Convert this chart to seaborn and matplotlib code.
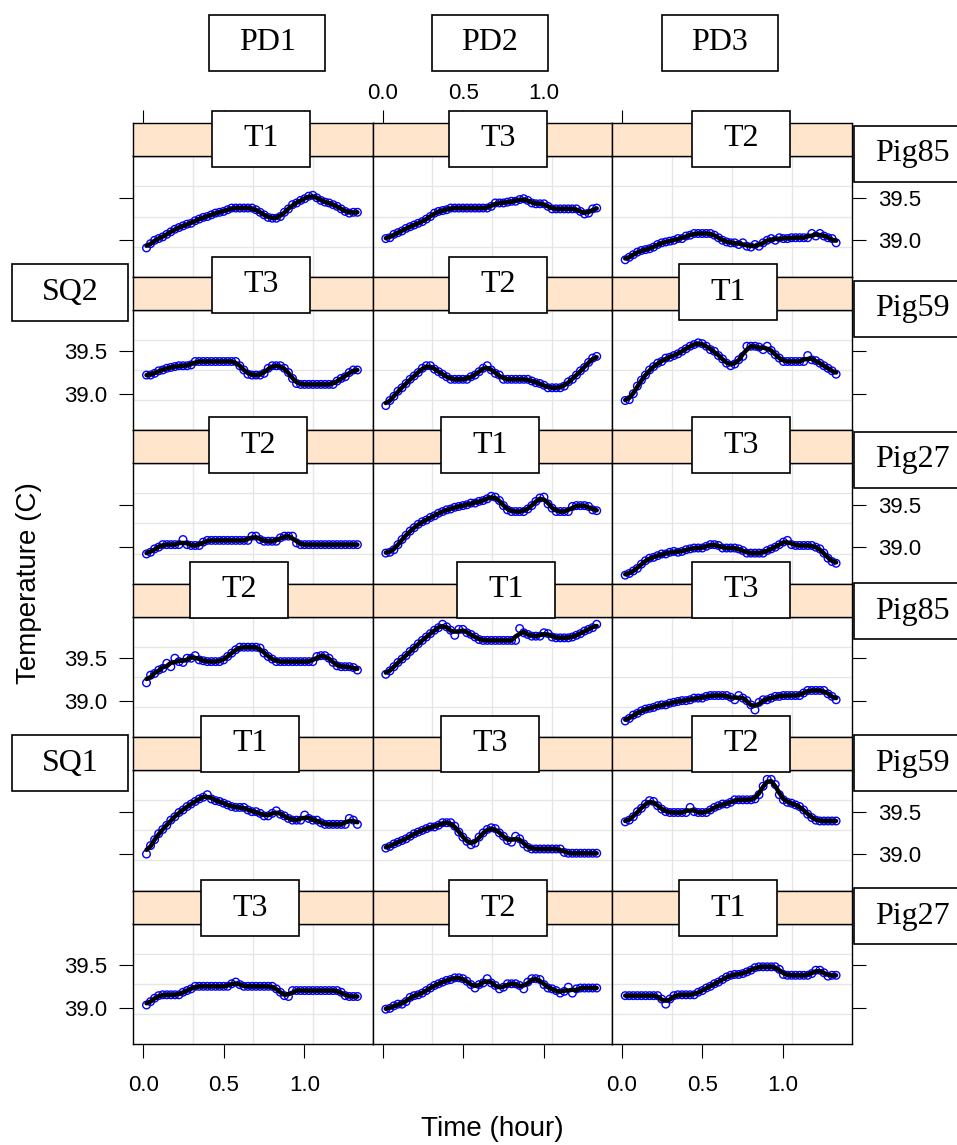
#!/usr/bin/env python3
# -*- coding: utf-8 -*-
"""
Rectal temperature of 3 pigs x 3 periods x 2 latin squares,
lattice-style trellis: 6 rows x 3 columns, strip per panel.
"""

import numpy as np
import pandas as pd
import seaborn as sns
import matplotlib.pyplot as plt
from matplotlib.patches import Rectangle

W, H = 957, 1145

# ──────────────────────── data ─────────────────────────────────────────────
periods = ["PD1", "PD2", "PD3"]
squares = ["SQ2", "SQ1"]
pigs = ["Pig85", "Pig59", "Pig27", "Pig85", "Pig59", "Pig27"]
treatments = [["T1", "T3", "T2"],
              ["T3", "T2", "T1"],
              ["T2", "T1", "T3"],
              ["T2", "T1", "T3"],
              ["T1", "T3", "T2"],
              ["T3", "T2", "T1"]]

minutes = np.linspace(1.2, 79.8, 53)      # sampling times
hours = minutes / 60.0

# SQ2 / Pig85
sq2_pig85_pd1 = [38.91, 38.96, 39.00, 39.02, 39.04, 39.07, 39.10, 39.13, 39.15, 39.17,
                 39.19, 39.20, 39.23, 39.25, 39.27, 39.28, 39.30, 39.32, 39.33, 39.34,
                 39.36, 39.38, 39.38, 39.38, 39.38, 39.38, 39.38, 39.36, 39.33, 39.30,
                 39.27, 39.26, 39.26, 39.28, 39.33, 39.37, 39.42, 39.44, 39.47, 39.49,
                 39.52, 39.53, 39.50, 39.47, 39.45, 39.44, 39.42, 39.40, 39.37, 39.34,
                 39.32, 39.33, 39.33]
sq2_pig85_pd2 = [39.02, 39.03, 39.07, 39.09, 39.11, 39.14, 39.16, 39.18, 39.20, 39.22,
                 39.25, 39.28, 39.32, 39.34, 39.35, 39.36, 39.38, 39.38, 39.38, 39.38,
                 39.38, 39.38, 39.38, 39.38, 39.38, 39.38, 39.40, 39.44, 39.44, 39.44,
                 39.45, 39.46, 39.46, 39.48, 39.49, 39.47, 39.44, 39.43, 39.43, 39.43,
                 39.40, 39.37, 39.37, 39.37, 39.37, 39.37, 39.37, 39.37, 39.34, 39.31,
                 39.32, 39.37, 39.38]
sq2_pig85_pd3 = [38.77, 38.80, 38.83, 38.86, 38.88, 38.89, 38.90, 38.92, 38.95, 38.97,
                 38.98, 38.99, 39.00, 39.02, 39.02, 39.05, 39.06, 39.08, 39.08, 39.08,
                 39.08, 39.08, 39.06, 39.03, 39.00, 38.98, 38.97, 38.97, 38.95, 38.97,
                 38.93, 38.92, 38.95, 38.93, 38.97, 39.00, 39.02, 39.00, 39.03, 39.02,
                 39.02, 39.03, 39.03, 39.03, 39.03, 39.03, 39.08, 39.05, 39.08, 39.05,
                 39.03, 39.02, 38.97]
# SQ2 / Pig59
sq2_pig59_pd1 = [39.22, 39.22, 39.24, 39.27, 39.28, 39.30, 39.31, 39.32, 39.33, 39.33,
                 39.33, 39.34, 39.38, 39.38, 39.38, 39.38, 39.38, 39.38, 39.38, 39.38,
                 39.38, 39.38, 39.38, 39.33, 39.28, 39.23, 39.22, 39.22, 39.22, 39.24,
                 39.30, 39.33, 39.33, 39.33, 39.30, 39.25, 39.18, 39.12, 39.11, 39.11,
                 39.11, 39.11, 39.11, 39.11, 39.11, 39.11, 39.11, 39.15, 39.18, 39.20,
                 39.25, 39.28, 39.28]
sq2_pig59_pd2 = [38.86, 38.92, 38.97, 39.03, 39.07, 39.12, 39.17, 39.21, 39.25, 39.30,
                 39.33, 39.33, 39.29, 39.26, 39.23, 39.20, 39.17, 39.17, 39.17, 39.17,
                 39.17, 39.20, 39.22, 39.26, 39.30, 39.33, 39.28, 39.24, 39.22, 39.17,
                 39.17, 39.17, 39.17, 39.17, 39.17, 39.17, 39.15, 39.13, 39.12, 39.10,
                 39.07, 39.07, 39.07, 39.07, 39.09, 39.14, 39.17, 39.22, 39.27, 39.31,
                 39.37, 39.42, 39.44]
sq2_pig59_pd3 = [38.92, 38.93, 39.00, 39.09, 39.16, 39.22, 39.28, 39.32, 39.36, 39.38,
                 39.42, 39.43, 39.45, 39.47, 39.50, 39.53, 39.56, 39.58, 39.60, 39.59,
                 39.56, 39.52, 39.50, 39.45, 39.41, 39.36, 39.33, 39.35, 39.40, 39.44,
                 39.56, 39.56, 39.56, 39.55, 39.52, 39.56, 39.51, 39.46, 39.42, 39.38,
                 39.38, 39.38, 39.38, 39.38, 39.38, 39.45, 39.40, 39.39, 39.36, 39.33,
                 39.30, 39.27, 39.23]
# SQ2 / Pig27
sq2_pig27_pd1 = [38.92, 38.94, 38.98, 39.00, 39.03, 39.03, 39.03, 39.03, 39.03, 39.09,
                 39.03, 39.02, 39.02, 39.02, 39.06, 39.08, 39.08, 39.08, 39.08, 39.08,
                 39.08, 39.08, 39.08, 39.08, 39.08, 39.08, 39.13, 39.13, 39.09, 39.07,
                 39.07, 39.07, 39.07, 39.11, 39.13, 39.13, 39.13, 39.05, 39.03, 39.03,
                 39.03, 39.03, 39.03, 39.03, 39.03, 39.03, 39.03, 39.03, 39.03, 39.03,
                 39.03, 39.03, 39.03]
sq2_pig27_pd2 = [38.93, 38.94, 38.97, 39.03, 39.09, 39.14, 39.19, 39.23, 39.27, 39.30,
                 39.32, 39.35, 39.37, 39.40, 39.42, 39.44, 39.45, 39.47, 39.48, 39.49,
                 39.50, 39.52, 39.52, 39.54, 39.55, 39.57, 39.60, 39.59, 39.55, 39.49,
                 39.44, 39.42, 39.42, 39.42, 39.42, 39.45, 39.49, 39.54, 39.58, 39.59,
                 39.51, 39.46, 39.42, 39.42, 39.42, 39.42, 39.48, 39.49, 39.49, 39.49,
                 39.48, 39.44, 39.43]
sq2_pig27_pd3 = [38.67, 38.69, 38.72, 38.75, 38.80, 38.84, 38.87, 38.88, 38.90, 38.92,
                 38.92, 38.94, 38.95, 38.94, 38.95, 38.97, 38.98, 38.99, 38.99, 38.99,
                 39.01, 39.03, 39.03, 39.02, 38.99, 38.99, 38.99, 38.99, 38.98, 38.96,
                 38.93, 38.93, 38.93, 38.93, 38.93, 38.96, 38.98, 39.00, 39.03, 39.06,
                 39.08, 39.03, 39.02, 39.02, 39.02, 39.02, 39.02, 39.00, 38.98, 38.93,
                 38.87, 38.83, 38.81]
# SQ1 / Pig85
sq1_pig85_pd1 = [39.21, 39.30, 39.32, 39.36, 39.38, 39.44, 39.40, 39.50, 39.46, 39.45,
                 39.50, 39.50, 39.53, 39.48, 39.47, 39.46, 39.46, 39.46, 39.46, 39.48,
                 39.52, 39.56, 39.60, 39.63, 39.63, 39.63, 39.63, 39.63, 39.62, 39.56,
                 39.52, 39.49, 39.46, 39.46, 39.46, 39.46, 39.46, 39.46, 39.46, 39.46,
                 39.46, 39.46, 39.52, 39.53, 39.53, 39.50, 39.45, 39.41, 39.40, 39.40,
                 39.40, 39.39, 39.36]
sq1_pig85_pd2 = [39.31, 39.35, 39.40, 39.45, 39.49, 39.53, 39.58, 39.62, 39.67, 39.71,
                 39.75, 39.79, 39.83, 39.86, 39.90, 39.87, 39.83, 39.77, 39.84, 39.84,
                 39.80, 39.78, 39.75, 39.72, 39.71, 39.71, 39.71, 39.71, 39.71, 39.71,
                 39.71, 39.71, 39.71, 39.85, 39.80, 39.78, 39.76, 39.76, 39.76, 39.80,
                 39.79, 39.75, 39.74, 39.74, 39.74, 39.74, 39.75, 39.77, 39.79, 39.82,
                 39.84, 39.86, 39.90]
sq1_pig85_pd3 = [38.76, 38.79, 38.83, 38.85, 38.88, 38.90, 38.91, 38.92, 38.94, 38.95,
                 38.95, 38.97, 38.98, 38.99, 39.00, 39.00, 39.01, 39.03, 39.03, 39.03,
                 39.05, 39.06, 39.06, 39.06, 39.06, 39.06, 39.04, 39.01, 39.06, 39.03,
                 39.00, 38.95, 38.89, 38.98, 39.01, 39.01, 39.03, 39.05, 39.05, 39.06,
                 39.06, 39.06, 39.06, 39.06, 39.09, 39.12, 39.12, 39.12, 39.12, 39.12,
                 39.08, 39.05, 39.01]
# SQ1 / Pig59
sq1_pig59_pd1 = [39.00, 39.10, 39.17, 39.24, 39.29, 39.34, 39.40, 39.44, 39.49, 39.52,
                 39.56, 39.59, 39.62, 39.65, 39.67, 39.70, 39.65, 39.63, 39.62, 39.60,
                 39.58, 39.56, 39.55, 39.55, 39.55, 39.52, 39.50, 39.50, 39.48, 39.45,
                 39.45, 39.48, 39.51, 39.47, 39.45, 39.42, 39.40, 39.40, 39.40, 39.46,
                 39.42, 39.40, 39.40, 39.37, 39.35, 39.35, 39.35, 39.35, 39.35, 39.35,
                 39.42, 39.40, 39.35]
sq1_pig59_pd2 = [39.07, 39.09, 39.12, 39.14, 39.16, 39.18, 39.21, 39.24, 39.26, 39.28,
                 39.30, 39.32, 39.32, 39.34, 39.37, 39.37, 39.37, 39.33, 39.26, 39.20,
                 39.15, 39.11, 39.13, 39.20, 39.25, 39.29, 39.31, 39.30, 39.25, 39.21,
                 39.16, 39.14, 39.21, 39.18, 39.12, 39.08, 39.06, 39.06, 39.06, 39.06,
                 39.06, 39.06, 39.06, 39.06, 39.02, 39.01, 39.01, 39.01, 39.01, 39.01,
                 39.01, 39.01, 39.01]
sq1_pig59_pd3 = [39.38, 39.40, 39.44, 39.50, 39.54, 39.59, 39.63, 39.62, 39.57, 39.53,
                 39.50, 39.49, 39.49, 39.49, 39.49, 39.49, 39.55, 39.50, 39.49, 39.49,
                 39.49, 39.52, 39.55, 39.57, 39.59, 39.59, 39.61, 39.64, 39.64, 39.64,
                 39.64, 39.64, 39.65, 39.70, 39.80, 39.88, 39.88, 39.82, 39.70, 39.64,
                 39.61, 39.60, 39.58, 39.56, 39.52, 39.47, 39.43, 39.40, 39.39, 39.39,
                 39.39, 39.39, 39.39]
# SQ1 / Pig27
sq1_pig27_pd1 = [39.03, 39.07, 39.11, 39.14, 39.15, 39.15, 39.15, 39.15, 39.15, 39.18,
                 39.20, 39.22, 39.25, 39.25, 39.25, 39.25, 39.25, 39.25, 39.25, 39.25,
                 39.25, 39.28, 39.30, 39.27, 39.25, 39.25, 39.25, 39.25, 39.25, 39.25,
                 39.25, 39.25, 39.22, 39.18, 39.14, 39.13, 39.20, 39.20, 39.20, 39.20,
                 39.20, 39.20, 39.20, 39.20, 39.20, 39.20, 39.20, 39.20, 39.18, 39.14,
                 39.13, 39.13, 39.13]
sq1_pig27_pd2 = [38.98, 38.99, 39.02, 39.04, 39.04, 39.07, 39.12, 39.14, 39.15, 39.17,
                 39.20, 39.23, 39.26, 39.28, 39.30, 39.32, 39.33, 39.35, 39.35, 39.34,
                 39.31, 39.27, 39.23, 39.27, 39.29, 39.34, 39.29, 39.26, 39.22, 39.24,
                 39.28, 39.28, 39.28, 39.26, 39.22, 39.30, 39.34, 39.34, 39.33, 39.27,
                 39.23, 39.22, 39.20, 39.17, 39.19, 39.24, 39.17, 39.22, 39.23, 39.23,
                 39.23, 39.23, 39.23]
sq1_pig27_pd3 = [39.14, 39.14, 39.14, 39.14, 39.14, 39.14, 39.14, 39.14, 39.14, 39.10,
                 39.04, 39.10, 39.14, 39.15, 39.15, 39.15, 39.15, 39.15, 39.18, 39.20,
                 39.23, 39.25, 39.28, 39.30, 39.33, 39.36, 39.38, 39.39, 39.39, 39.40,
                 39.42, 39.44, 39.47, 39.48, 39.48, 39.48, 39.48, 39.48, 39.45, 39.39,
                 39.38, 39.38, 39.38, 39.38, 39.38, 39.38, 39.40, 39.44, 39.44, 39.41,
                 39.37, 39.38, 39.38]

grid_series = [[sq2_pig85_pd1, sq2_pig85_pd2, sq2_pig85_pd3],
               [sq2_pig59_pd1, sq2_pig59_pd2, sq2_pig59_pd3],
               [sq2_pig27_pd1, sq2_pig27_pd2, sq2_pig27_pd3],
               [sq1_pig85_pd1, sq1_pig85_pd2, sq1_pig85_pd3],
               [sq1_pig59_pd1, sq1_pig59_pd2, sq1_pig59_pd3],
               [sq1_pig27_pd1, sq1_pig27_pd2, sq1_pig27_pd3]]

frames = []
for r, row in enumerate(grid_series):
    for c, vals in enumerate(row):
        d = pd.DataFrame({"hour": hours, "temp": vals})
        d["smooth"] = d.temp.rolling(3, center=True, min_periods=1).mean()
        d["row"], d["col"] = r, c
        frames.append(d)
df = pd.concat(frames, ignore_index=True)

# ──────────────────────── layout (pixels) ──────────────────────────────────
COL_X = [133.3, 372.6, 612.0]
COL_W = 239.5
ROW_TOP, ROW_STEP = 123.3, 153.45
STRIP_H = 33.0
PANEL_H = ROW_STEP - STRIP_H
XLIM = (-0.062, 1.4256)
YLIM = (38.57, 39.99)

# label boxes sitting on the strips (left, top)
box_x = [[212.3, 449.3, 692.3],
         [212.3, 449.3, 679.3],
         [209.0, 441.0, 692.3],
         [190.0, 457.3, 692.3],
         [200.7, 441.0, 692.3],
         [200.7, 449.3, 679.3]]
box_y = [[110.7, 110.7, 110.7],
         [256.7, 256.7, 264.3],
         [417.3, 417.3, 417.3],
         [561.7, 561.7, 561.7],
         [715.7, 715.7, 715.7],
         [880.0, 880.0, 880.0]]
pd_x, pd_y = [209.0, 431.7, 661.7], 14.7
sq_x, sq_y = 12.0, [264.3, 735.0]
pig_x, pig_y = 854.0, [125.7, 280.7, 431.7, 583.0, 735.0, 888.3]

sns.set_theme(style="white")
plt.rcParams["font.family"] = ["Liberation Sans", "DejaVu Sans"]
plt.rcParams["text.color"] = "black"

fig = plt.figure(figsize=(W / 100, H / 100), dpi=100)


def frame(x, y, w, h):
    return [x / W, 1 - (y + h) / H, w / W, h / H]


def label_box(x, y, w, h, txt):
    fig.add_artist(Rectangle((x / W, 1 - (y + h) / H), w / W, h / H,
                             transform=fig.transFigure, facecolor="white",
                             edgecolor="black", lw=1.2, zorder=5))
    fig.text((x + w / 2) / W, 1 - (y + h / 2) / H, txt, ha="center", va="center",
             fontsize=23, color="black",
             family=["Liberation Serif", "DejaVu Serif"], zorder=6)


def style_spines(ax):
    for s in ax.spines.values():
        s.set_visible(True)
        s.set_color("black")
        s.set_linewidth(1.0)


quarters_x = [XLIM[0] + (XLIM[1] - XLIM[0]) * k / 4 for k in (1, 2, 3)]
quarters_y = [YLIM[0] + (YLIM[1] - YLIM[0]) * k / 4 for k in (1, 2, 3)]

for r in range(6):
    top = ROW_TOP + r * ROW_STEP
    for c in range(3):
        ax = fig.add_axes(frame(COL_X[c], top + STRIP_H, COL_W, PANEL_H))
        sub = df[(df.row == r) & (df.col == c)]
        sns.scatterplot(data=sub, x="hour", y="temp", ax=ax, marker="o", s=30,
                        zorder=2)
        pts = ax.collections[-1]
        pts.set_facecolor("none")
        pts.set_edgecolor("blue")
        pts.set_linewidth(1.0)
        sns.lineplot(data=sub, x="hour", y="smooth", ax=ax, color="black",
                     zorder=3)
        ln = ax.lines[-1]
        ln.set_linewidth(3.2)
        ln.set_solid_capstyle("round")
        ln.set_solid_joinstyle("round")
        ax.set_xlim(XLIM)
        ax.set_ylim(YLIM)
        ax.set_xlabel("")
        ax.set_ylabel("")

        ax.set_xticks(quarters_x, minor=True)
        ax.set_yticks(quarters_y, minor=True)
        ax.grid(False, which="major")
        ax.grid(True, which="minor", color="#e6e6e6", lw=1.0)
        ax.set_axisbelow(True)

        ax.set_xticks([0.0, 0.5, 1.0])
        ax.set_xticklabels(["0.0", "0.5", "1.0"])
        ax.set_yticks([39.0, 39.5])
        ax.set_yticklabels(["39.0", "39.5"])
        ax.tick_params(which="minor", length=0)
        ax.tick_params(which="major", direction="out", length=10, width=0.8,
                       color="black", labelcolor="black", labelsize=16,
                       bottom=(r == 5), labelbottom=(r == 5 and c != 1),
                       top=False, labeltop=False,
                       left=(c == 0), labelleft=(c == 0 and r % 2 == 1),
                       right=(c == 2), labelright=(c == 2 and r % 2 == 0))
        ax.xaxis.set_tick_params(pad=12)
        ax.yaxis.set_tick_params(pad=8.8)
        style_spines(ax)

        # strip
        sx = fig.add_axes(frame(COL_X[c], top, COL_W, STRIP_H))
        sx.set_facecolor("#FFE5CC")
        sx.set_xlim(XLIM)
        sx.set_yticks([])
        if r == 0:
            sx.set_xticks([0.0, 0.5, 1.0])
            sx.set_xticklabels(["0.0", "0.5", "1.0"])
            sx.tick_params(axis="x", direction="out", length=9.4, width=0.8,
                           color="black", labelcolor="black", labelsize=16,
                           bottom=False, labelbottom=False, top=True,
                           labeltop=(c == 1), pad=4.5)
        else:
            sx.set_xticks([])
        style_spines(sx)

        label_box(box_x[r][c], box_y[r][c], 98, 56, treatments[r][c])

# outer strips
for c, name in enumerate(periods):
    label_box(pd_x[c], pd_y, 116, 56.3, name)
for k, name in enumerate(squares):
    label_box(sq_x, sq_y[k], 116, 56.3, name)
for r, name in enumerate(pigs):
    label_box(pig_x, pig_y[r], 116, 56.0, name)

fig.text(492.5 / W, 1 - 1129 / H, "Time (hour)", ha="center", va="center",
         fontsize=20, color="black")
fig.text(29.5 / W, 1 - 583.5 / H, "Temperature (C)", ha="center", va="center",
         rotation=90, fontsize=20, color="black")

fig.savefig("out.png", dpi=100)
